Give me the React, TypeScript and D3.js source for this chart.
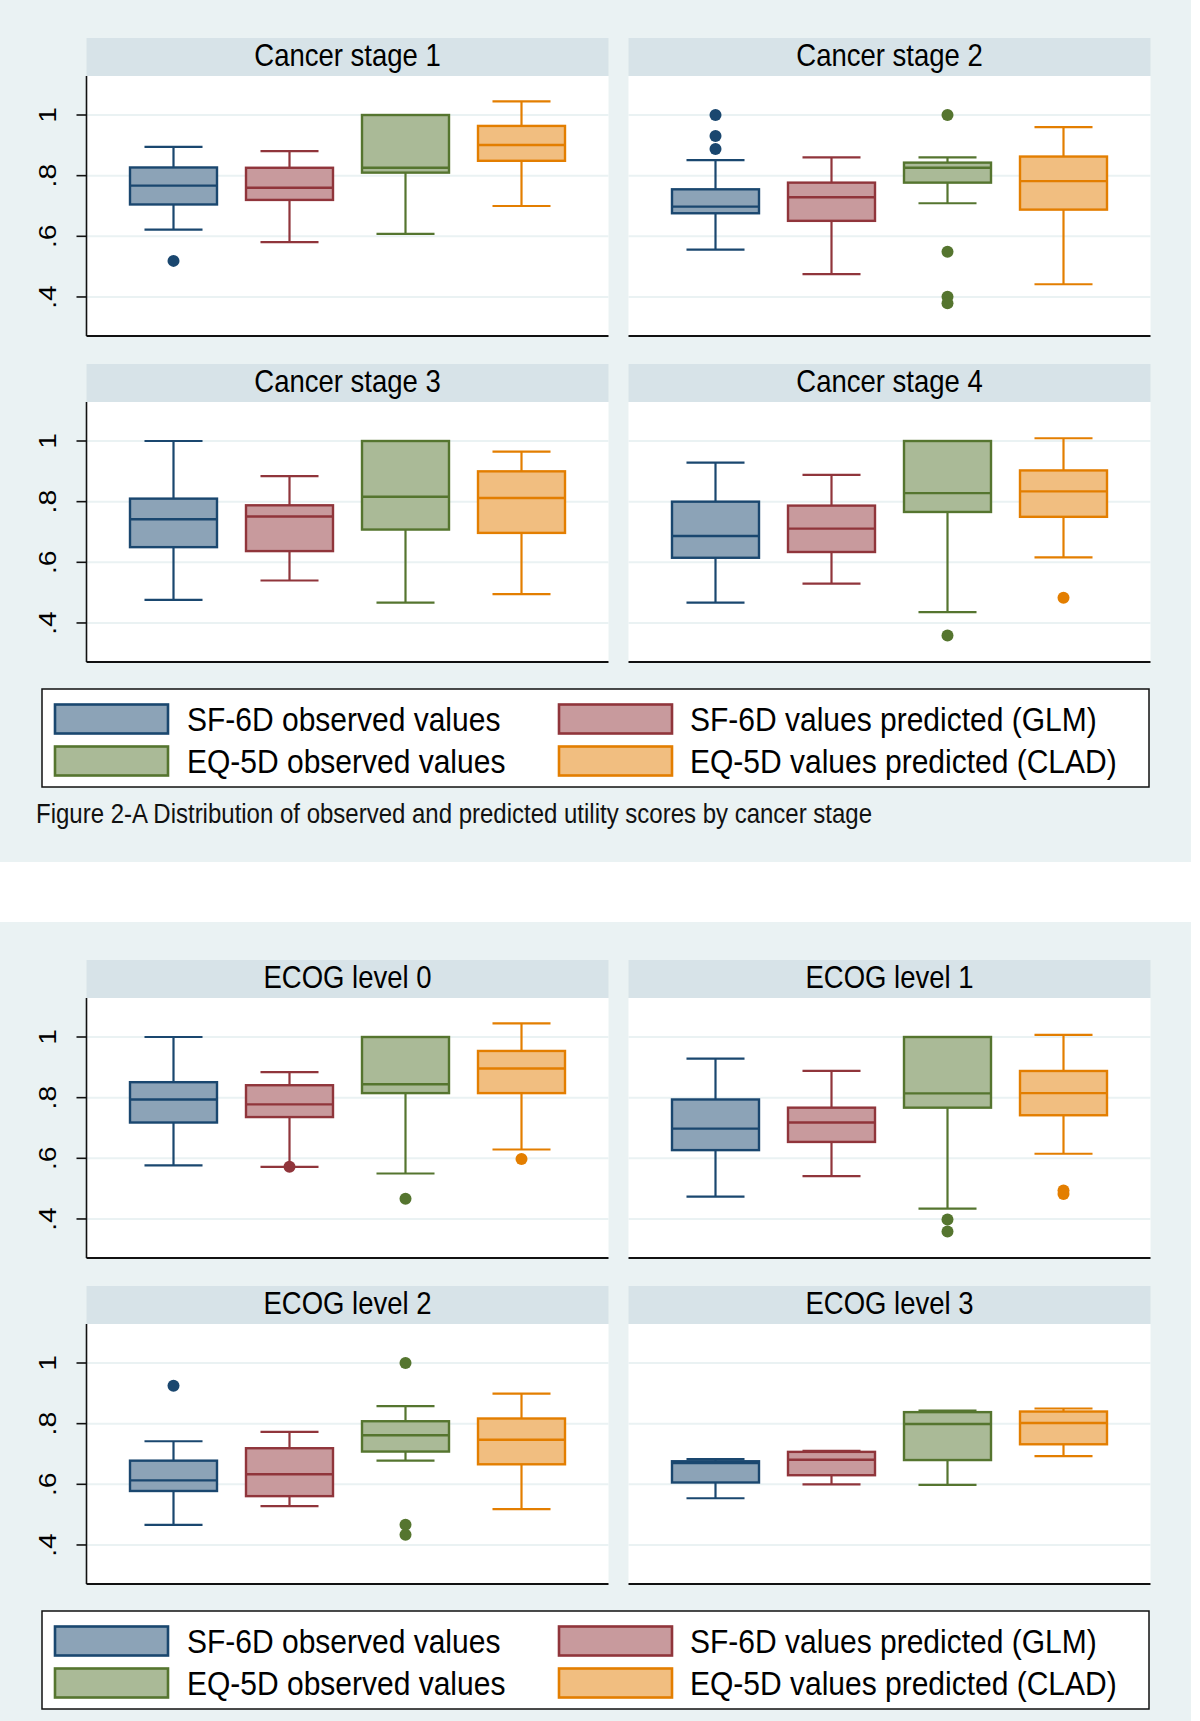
import React from "react";
import * as d3 from "d3";

// series shown in every panel
const seriesNames = [
  "SF-6D observed values",
  "SF-6D values predicted (GLM)",
  "EQ-5D observed values",
  "EQ-5D values predicted (CLAD)",
];
const lineColors = ["#1a476f", "#90353b", "#55752f", "#e37e00"];
const fillColors = ["#8ca3b7", "#c89a9d", "#aaba97", "#f1be80"];

const yTicks = [0.4, 0.6, 0.8, 1];
const yTickLabels = [".4", ".6", ".8", "1"];

// [lower whisker, q1, median, q3, upper whisker]
const stagePanels = ["Cancer stage 1", "Cancer stage 2", "Cancer stage 3", "Cancer stage 4"];
const stageStats = [
  [[0.622, 0.705, 0.767, 0.827, 0.895], [0.581, 0.72, 0.76, 0.826, 0.881], [0.608, 0.81, 0.826, 1.0, 1.0], [0.7, 0.849, 0.901, 0.964, 1.045]],
  [[0.556, 0.676, 0.698, 0.755, 0.851], [0.475, 0.651, 0.729, 0.777, 0.86], [0.709, 0.777, 0.826, 0.843, 0.86], [0.442, 0.688, 0.782, 0.863, 0.96]],
  [[0.476, 0.65, 0.742, 0.81, 1.0], [0.54, 0.637, 0.751, 0.788, 0.884], [0.467, 0.708, 0.816, 1.0, 1.0], [0.495, 0.697, 0.812, 0.9, 0.965]],
  [[0.467, 0.615, 0.687, 0.8, 0.929], [0.53, 0.634, 0.711, 0.787, 0.888], [0.436, 0.766, 0.828, 1.0, 1.0], [0.616, 0.75, 0.834, 0.903, 1.009]],
];
const stageOutliers = [
  [[0.519], [], [], []],
  [[1.0, 0.931, 0.888], [], [1.0, 0.549, 0.401, 0.379], []],
  [[], [], [], []],
  [[], [], [0.359], [0.483]],
];

const ecogPanels = ["ECOG level 0", "ECOG level 1", "ECOG level 2", "ECOG level 3"];
const ecogStats = [
  [[0.577, 0.718, 0.794, 0.851, 1.0], [0.572, 0.736, 0.778, 0.841, 0.884], [0.55, 0.815, 0.844, 1.0, 1.0], [0.629, 0.815, 0.896, 0.954, 1.045]],
  [[0.474, 0.627, 0.698, 0.794, 0.929], [0.541, 0.654, 0.718, 0.767, 0.888], [0.434, 0.767, 0.814, 1.0, 1.0], [0.615, 0.742, 0.815, 0.888, 1.007]],
  [[0.466, 0.578, 0.613, 0.678, 0.742], [0.528, 0.561, 0.633, 0.719, 0.773], [0.678, 0.708, 0.762, 0.808, 0.858], [0.518, 0.666, 0.747, 0.817, 0.899]],
  [[0.554, 0.606, 0.67, 0.676, 0.683], [0.6, 0.63, 0.681, 0.707, 0.71], [0.598, 0.68, 0.799, 0.838, 0.843], [0.693, 0.732, 0.802, 0.84, 0.85]],
];
const ecogOutliers = [
  [[], [0.572], [0.467], [0.598]],
  [[], [], [0.398, 0.359], [0.494, 0.482]],
  [[0.925], [], [1.0, 0.467, 0.434], []],
  [[], [], [], []],
];

const caption = "Figure 2-A Distribution of observed and predicted utility scores by cancer stage";

const FONT = "'Liberation Sans', Arial, Helvetica, sans-serif";
const BG = "#eaf2f3";
const STRIP = "#d7e3e8";
const panelW = 522;
const stripH = 38;
const plotH = 260;
const colX = [86.5, 628.5];
const rowY = [38, 364];
// the original text looks a bit tall and narrow
const STRETCH = 1.13;

type PanelProps = {
  x0: number;
  y0: number;
  title: string;
  stats: number[][];
  outliers: number[][];
  yAxis: boolean;
};

const Panel: React.FC<PanelProps> = ({ x0, y0, title, stats, outliers, yAxis }) => {
  const top = y0 + stripH;
  const bottom = top + plotH;
  const y = d3.scaleLinear().domain([0.2713, 1.1286]).range([bottom, top]);
  const x = d3.scaleBand<number>()
    .domain(d3.range(seriesNames.length))
    .range([x0, x0 + panelW])
    .paddingInner(0.25)
    .paddingOuter(0.375);
  const bw = x.bandwidth();
  const capW = bw * 0.667;

  return (
    <g>
      <rect x={x0} y={y0} width={panelW} height={stripH} fill={STRIP} />
      <text
        transform={`translate(${x0 + panelW / 2},${y0 + stripH / 2 + 8.5}) scale(1,${STRETCH})`}
        textAnchor="middle" fontSize={27.5} fontFamily={FONT} fill="#000">
        {title}
      </text>
      <rect x={x0} y={top} width={panelW} height={plotH} fill="#fff" />
      {yTicks.map((t) => (
        <line key={t} x1={x0} x2={x0 + panelW} y1={y(t)} y2={y(t)} stroke={BG} strokeWidth={2} />
      ))}
      {stats.map((s, i) => {
        const cx = (x(i) as number) + bw / 2;
        const [lo, q1, med, q3, hi] = s;
        const c = lineColors[i];
        return (
          <g key={i}>
            <line x1={cx} x2={cx} y1={y(hi)} y2={y(q3)} stroke={c} strokeWidth={2.2} />
            <line x1={cx} x2={cx} y1={y(q1)} y2={y(lo)} stroke={c} strokeWidth={2.2} />
            <line x1={cx - capW / 2} x2={cx + capW / 2} y1={y(hi)} y2={y(hi)} stroke={c} strokeWidth={2.2} />
            <line x1={cx - capW / 2} x2={cx + capW / 2} y1={y(lo)} y2={y(lo)} stroke={c} strokeWidth={2.2} />
            <rect x={cx - bw / 2} y={y(q3)} width={bw} height={y(q1) - y(q3)} fill={fillColors[i]} stroke={c} strokeWidth={2.4} />
            <line x1={cx - bw / 2} x2={cx + bw / 2} y1={y(med)} y2={y(med)} stroke={c} strokeWidth={2.4} />
            {outliers[i].map((o, j) => (
              <circle key={j} cx={cx} cy={y(o)} r={6} fill={c} />
            ))}
          </g>
        );
      })}
      <line x1={x0} x2={x0 + panelW} y1={bottom} y2={bottom} stroke="#111" strokeWidth={2} />
      {yAxis && (
        <g>
          <line x1={x0} x2={x0} y1={top} y2={bottom} stroke="#111" strokeWidth={1.6} />
          {yTicks.map((t, k) => (
            <g key={t}>
              <line x1={x0 - 10} x2={x0} y1={y(t)} y2={y(t)} stroke="#111" strokeWidth={1.6} />
              <text transform={`translate(${x0 - 31},${y(t)}) rotate(-90) scale(1.2,1)`} textAnchor="middle" fontSize={23.5} fontFamily={FONT} fill="#000">
                {yTickLabels[k]}
              </text>
            </g>
          ))}
        </g>
      )}
    </g>
  );
};

const Legend: React.FC<{ y0: number }> = ({ y0 }) => {
  const swX = [55, 559];
  const txX = [187, 690];
  const rowC = [y0 + 30, y0 + 72];
  return (
    <g>
      <rect x={42} y={y0} width={1107} height={98} fill="#fff" stroke="#111" strokeWidth={1.5} />
      {seriesNames.map((name, i) => {
        const col = i % 2;
        const row = Math.floor(i / 2);
        return (
          <g key={name}>
            <rect x={swX[col]} y={rowC[row] - 14.5} width={113} height={29} fill={fillColors[i]} stroke={lineColors[i]} strokeWidth={2.6} />
            <text transform={`translate(${txX[col]},${rowC[row] + 11.5}) scale(1,${STRETCH})`} fontSize={30} fontFamily={FONT} fill="#000">
              {name}
            </text>
          </g>
        );
      })}
    </g>
  );
};

type FigureProps = {
  top: number;
  height: number;
  panels: string[];
  stats: number[][][];
  outliers: number[][][];
  withCaption: boolean;
};

const Figure: React.FC<FigureProps> = ({ top, height, panels, stats, outliers, withCaption }) => (
  <g>
    <rect x={0} y={top} width={1191} height={height} fill={BG} />
    {panels.map((p, k) => (
      <Panel
        key={p}
        x0={colX[k % 2]}
        y0={top + rowY[Math.floor(k / 2)]}
        title={p}
        stats={stats[k]}
        outliers={outliers[k]}
        yAxis={k % 2 === 0}
      />
    ))}
    <Legend y0={top + 689} />
    {withCaption && (
      <text transform={`translate(36,${top + 823}) scale(1,${STRETCH})`} fontSize={24} fontFamily={FONT} fill="#111">
        {caption}
      </text>
    )}
  </g>
);

export default function App() {
  return (
    <svg width={1200} height={1721} style={{ position: "absolute", left: 0, top: 0, display: "block", background: "#fff" }}>
      <Figure top={0} height={862} panels={stagePanels} stats={stageStats} outliers={stageOutliers} withCaption={true} />
      <Figure top={922} height={799} panels={ecogPanels} stats={ecogStats} outliers={ecogOutliers} withCaption={false} />
    </svg>
  );
}
